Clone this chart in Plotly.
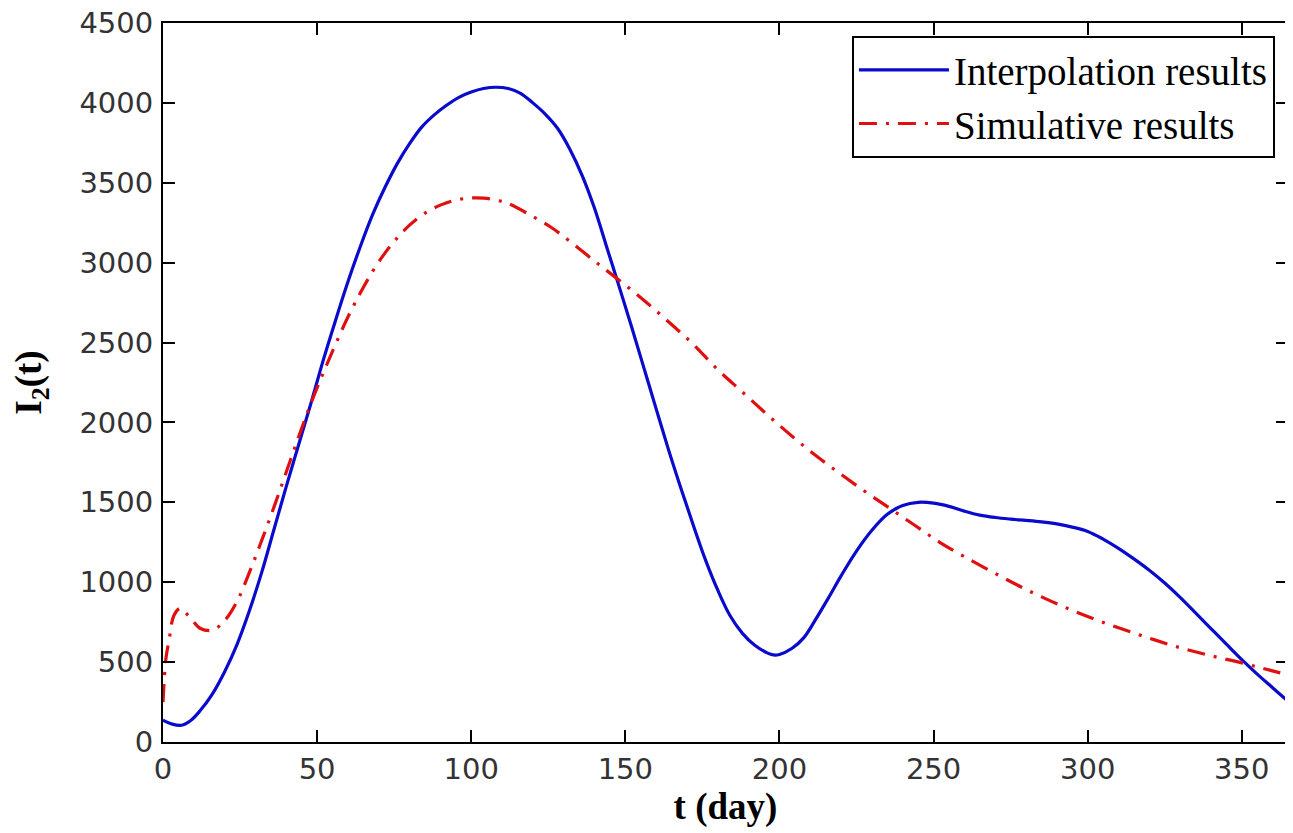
import plotly.graph_objects as go

# Interpolation results (blue, solid)
t_interp = [0, 3, 6, 9, 12, 16, 20, 24, 28, 32, 36, 40, 44, 48, 52, 56, 60, 64, 68, 72, 76,
            80, 84, 88, 92, 96, 100, 104, 108, 112, 116, 120, 124, 128, 132, 136, 140, 144,
            148, 152, 156, 160, 164, 168, 172, 176, 180, 184, 188, 192, 196, 198, 200, 204,
            208, 212, 216, 220, 225, 230, 235, 240, 245, 250, 255, 260, 265, 270, 275, 280,
            285, 290, 295, 300, 305, 310, 315, 320, 325, 330, 335, 340, 345, 350, 355, 360,
            365]
i_interp = [137, 112, 105, 135, 195, 300, 440, 610, 820, 1060, 1330, 1600, 1860, 2120, 2390,
            2640, 2880, 3100, 3300, 3470, 3620, 3745, 3850, 3925, 3985, 4035, 4068, 4090,
            4098, 4090, 4060, 4000, 3930, 3841, 3710, 3545, 3340, 3095, 2850, 2600, 2343,
            2085, 1830, 1590, 1360, 1140, 950, 790, 680, 605, 558, 545, 548, 585, 655, 775,
            905, 1040, 1195, 1325, 1425, 1480, 1500, 1495, 1475, 1445, 1420, 1405, 1395,
            1387, 1378, 1365, 1345, 1318, 1270, 1212, 1146, 1075, 995, 905, 808, 710, 612,
            515, 425, 340, 255]

# Simulative results (red, dash-dot)
t_sim = [0, 0.5, 1, 2, 3.5, 5.5, 7, 9, 12, 16, 20, 24, 28, 32, 36, 40, 44, 48, 52, 56, 60,
         64, 68, 72, 76, 80, 85, 90, 95, 100, 104, 108, 112, 119, 126, 132, 140, 148, 156,
         164, 172, 180, 188, 196, 204, 212, 220, 228, 236, 244, 252, 260, 270, 280, 290,
         300, 310, 320, 330, 340, 350, 358, 365]
i_sim = [250, 420, 530, 640, 790, 836, 815, 774, 712, 699, 760, 880, 1060, 1260, 1470, 1690,
         1910, 2120, 2310, 2490, 2660, 2810, 2945, 3060, 3155, 3235, 3310, 3360, 3392, 3405,
         3404, 3392, 3370, 3300, 3220, 3134, 3010, 2890, 2765, 2630, 2490, 2330, 2190, 2050,
         1915, 1790, 1675, 1565, 1460, 1355, 1250, 1160, 1055, 955, 865, 785, 715, 650, 590,
         540, 495, 455, 420]

x_ticks = [0, 50, 100, 150, 200, 250, 300, 350]
y_ticks = [0, 500, 1000, 1500, 2000, 2500, 3000, 3500, 4000, 4500]

fig = go.Figure()
fig.add_trace(go.Scatter(x=t_interp, y=i_interp, mode="lines", name="Interpolation results",
                         line=dict(color="#0a0acc", width=3.2, shape="spline", smoothing=1.0)))
fig.add_trace(go.Scatter(x=t_sim, y=i_sim, mode="lines", name="Simulative results",
                         line=dict(color="#e01010", width=3.2, shape="spline", smoothing=1.0,
                                   dash="18px,9px,3px,9px")))

tickfont = dict(family="DejaVu Sans", size=29, color="#333333")
axis_common = dict(showline=True, linecolor="black", linewidth=2, mirror="ticks",
                   ticks="inside", ticklen=12, tickwidth=2, tickcolor="black",
                   showgrid=False, zeroline=False, tickfont=tickfont, automargin=False,
                   ticklabeloverflow="allow")

fig.update_xaxes(range=[0, 365], tickvals=x_ticks, ticktext=[str(v) for v in x_ticks],
                 title=dict(text="<b>t (day)</b>",
                            font=dict(family="Liberation Serif", size=37, color="black"),
                            standoff=2),
                 ticklabelstandoff=0, **axis_common)
fig.update_yaxes(range=[0, 4500], tickvals=y_ticks, ticktext=[str(v) for v in y_ticks],
                 title=dict(text="<b>I<sub>2</sub>(t)</b>",
                            font=dict(family="Liberation Serif", size=37, color="black"),
                            standoff=26),
                 ticklabelstandoff=2, **axis_common)

# the page body has an 8px margin, so the figure is sized/offset to compensate
fig.update_layout(
    width=1285, height=825,
    margin=dict(l=155, r=5, t=15, b=91),
    plot_bgcolor="white", paper_bgcolor="white",
    showlegend=True,
    legend=dict(x=0.9884, y=0.982, xanchor="right", yanchor="top",
                bgcolor="white", bordercolor="black", borderwidth=2,
                font=dict(family="Liberation Serif", size=39, color="black"),
                itemwidth=90, tracegroupgap=0),
)

fig.write_html("out.html")
